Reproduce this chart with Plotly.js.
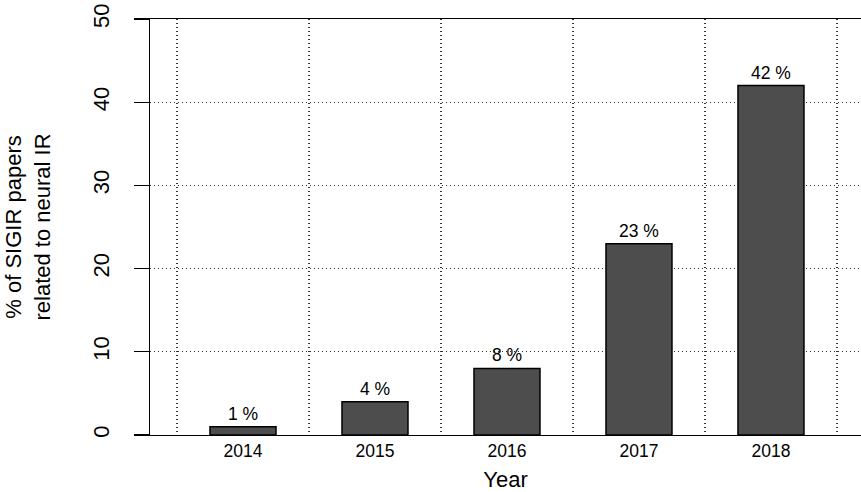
<!DOCTYPE html>
<html>
<head>
<meta charset="utf-8">
<script src="https://cdn.plot.ly/plotly-3.0.1.min.js"></script>
<style>html,body{margin:0;padding:0;background:#fff;}#chart{width:861px;height:492px;}</style>
</head>
<body>
<div id="chart"></div>
<script>
const years = [2014, 2015, 2016, 2017, 2018];
const yearLabels = ["2014", "2015", "2016", "2017", "2018"];
const percentages = [1, 4, 8, 23, 42];
const yTicks = [0, 10, 20, 30, 40, 50];

const FONT = "Liberation Sans, Arial, Helvetica, sans-serif";

const trace = {
  type: "bar",
  x: years,
  y: percentages,
  width: 0.5,
  marker: {color: "#4d4d4d", line: {color: "#000", width: 1.5}},
  text: percentages.map(v => v + " %"),
  textposition: "outside",
  cliponaxis: false,
  textfont: {family: FONT, size: 17.5, color: "#000"},
  hoverinfo: "skip"
};

const layout = {
  width: 861,
  height: 492,
  margin: {l: 150, r: 0, t: 19, b: 57, pad: 0},
  paper_bgcolor: "#fff",
  plot_bgcolor: "#fff",
  showlegend: false,
  font: {family: FONT, color: "#000"},
  xaxis: {
    range: [2013.2955, 2018.682],
    tickvals: years,
    ticktext: yearLabels,
    ticks: "",
    tickfont: {size: 17.5},
    showline: true,
    mirror: true,
    linecolor: "#000",
    linewidth: 1.3,
    showgrid: false,
    zeroline: false,
    minor: {tick0: 2013.5, dtick: 1, showgrid: true, griddash: "1px,3px", gridcolor: "#333", gridwidth: 1.2, ticks: ""},
    title: {text: "Year", font: {size: 22}, standoff: 14},
    automargin: false
  },
  yaxis: {
    range: [0, 50],
    tickvals: yTicks,
    ticktext: yTicks.map(String),
    ticks: "outside",
    ticklen: 15,
    tickwidth: 1.3,
    tickcolor: "#000",
    tickangle: -90,
    ticklabelstandoff: 16,
    tickfont: {size: 22},
    showline: true,
    linecolor: "#000",
    linewidth: 1.3,
    showgrid: true,
    griddash: "1px,3px",
    gridcolor: "#333",
    gridwidth: 1.2,
    zeroline: false,
    title: {text: "% of SIGIR papers<br>related to neural IR", font: {size: 22}, standoff: 32},
    automargin: false
  }
};

Plotly.newPlot("chart", [trace], layout, {displayModeBar: false, staticPlot: true});
</script>
</body>
</html>
